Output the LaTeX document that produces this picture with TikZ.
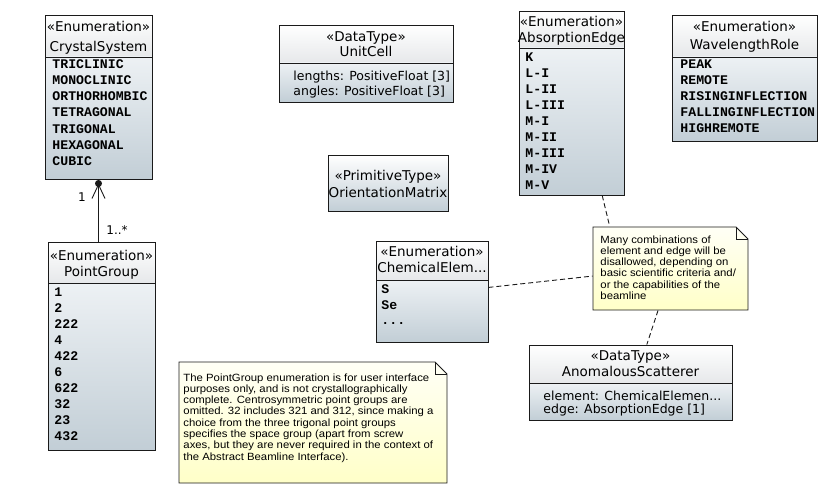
\documentclass[tikz,border=0pt]{standalone}
\usepackage{fontspec}
\usepackage{xcolor}
\newfontfamily\umlsans{DejaVu Sans}
\newfontfamily\umlmono{Liberation Mono}
\newfontfamily\umlnote[FakeStretch=1.08]{Liberation Sans}
\usetikzlibrary{arrows.meta,calc,fit}
\definecolor{headgray}{HTML}{E6E8EA}
\definecolor{bodytop}{HTML}{EDF1F4}
\definecolor{bodybottom}{HTML}{C2CED6}
\definecolor{notetop}{HTML}{FFFFF6}
\definecolor{notebottom}{HTML}{FFFFC8}
\definecolor{umlline}{HTML}{1A1A1A}

% class box: name, left, top, right, separator, bottom
\newcommand{\classbox}[6]{%
  \shade[top color=white, bottom color=headgray] (#2,#3) rectangle (#4,#5);
  \shade[top color=bodytop, bottom color=bodybottom] (#2,#5) rectangle (#4,#6);
  \draw[umlline] (#2,#5) -- (#4,#5);
  \node[classframe, fit={(#2,#3) (#4,#6)}] (#1) {};
}
% note with folded corner: name, left, top, right, bottom
\newcommand{\notebox}[5]{%
  \shade[top color=notetop, bottom color=notebottom]
    (#2,#3) -- ({#4-12},#3) -- (#4,{#3+12}) -- (#4,#5) -- (#2,#5) -- cycle;
  \draw[umlline] (#2,#3) -- ({#4-12},#3) -- (#4,{#3+12}) -- (#4,#5) -- (#2,#5) -- cycle;
  \draw[umlline] ({#4-12},#3) -- ({#4-12},{#3+12}) -- (#4,{#3+12});
  \node[inner sep=0pt, fit={(#2,#3) (#4,#5)}] (#1) {};
}

\begin{document}
\begin{tikzpicture}[
    x=1pt, y=-1pt, line width=0.9pt,
    classframe/.style={draw=umlline, inner sep=0pt},
    stereo/.style={font=\umlsans\fontsize{13.5}{15}\selectfont, inner sep=0pt,
      text height=9.5pt, text depth=2.5pt},
    attr/.style={font=\umlsans\fontsize{12.5}{15}\selectfont, inner sep=0pt,
      anchor=west, text height=9pt, text depth=2.5pt},
    literal/.style={font=\umlmono\bfseries\fontsize{13.2}{15}\selectfont, inner sep=0pt,
      anchor=west, text height=7.5pt, text depth=0pt},
    notetext/.style={font=\umlnote\fontsize{10.5}{11.3}\selectfont, inner sep=0pt,
      anchor=north west, align=left},
    mult/.style={font=\umlsans\fontsize{12}{14}\selectfont, inner sep=0pt},
    noteline/.style={umlline, dash pattern=on 5pt off 3pt}
  ]
  \fill[white] (0,0) rectangle (829,494);
  \useasboundingbox (0,0) rectangle (829,494);

  % CrystalSystem
  \classbox{cs}{45}{15}{152}{57}{179}
  \node[stereo] (cs-stereo) at (98.5,28) {«Enumeration»};
  \node[stereo] (cs-title) at (98.5,48) {CrystalSystem};
  \foreach \lit [count=\i from 0] in {TRICLINIC,MONOCLINIC,ORTHORHOMBIC,TETRAGONAL,TRIGONAL,HEXAGONAL,CUBIC}
    \node[literal] (cs-\i) at (52,{64.5+16.2*\i}) {\lit};

  % PointGroup
  \classbox{pg}{48}{242}{155}{283}{450}
  \node[stereo] (pg-stereo) at (101.5,257) {«Enumeration»};
  \node[stereo] (pg-title) at (101.5,273) {PointGroup};
  \foreach \lit [count=\i from 0] in {1,2,222,4,422,6,622,32,23,432}
    \node[literal] (pg-\i) at (54,{293+16*\i}) {\lit};

  % association CrystalSystem -- PointGroup
  \draw[umlline, {Straight Barb[length=14pt,width=13pt]}-, shorten <=4pt]
    (cs.south) -- (cs.south |- pg.north);
  \fill[umlline] ($(cs.south)+(0,4)$) circle[radius=3.5pt];
  \node[mult] (cs-mult) at (82,197) {1};
  \node[mult] (pg-mult) at (117,230) {1..*};

  % UnitCell
  \classbox{uc}{279}{25}{453}{63}{102}
  \node[stereo] (uc-stereo) at (366,38) {«DataType»};
  \node[stereo] (uc-title) at (366,53) {UnitCell};
  \node[attr] (uc-lengths) at (293,77) {lengths: PositiveFloat [3]};
  \node[attr] (uc-angles) at (293,92) {angles: PositiveFloat [3]};

  % OrientationMatrix
  \shade[top color=white, bottom color=bodybottom] (328,155) rectangle (448,211);
  \node[classframe, fit={(328,155) (448,211)}] (om) {};
  \node[stereo] (om-stereo) at (388,177) {«PrimitiveType»};
  \node[stereo] (om-title) at (388,194) {OrientationMatrix};

  % AbsorptionEdge
  \classbox{ae}{519}{11}{624}{48}{195}
  \node[stereo] (ae-stereo) at (571.5,23) {«Enumeration»};
  \node[stereo] (ae-title) at (571.5,39) {AbsorptionEdge};
  \foreach \lit [count=\i from 0] in {K,L-I,L-II,L-III,M-I,M-II,M-III,M-IV,M-V}
    \node[literal] (ae-\i) at (525,{58+16*\i}) {\lit};

  % WavelengthRole
  \classbox{wr}{672}{15}{817}{57}{141}
  \node[stereo] (wr-stereo) at (744.5,28) {«Enumeration»};
  \node[stereo] (wr-title) at (744.5,46) {WavelengthRole};
  \foreach \lit [count=\i from 0] in {PEAK,REMOTE,RISINGINFLECTION,FALLINGINFLECTION,HIGHREMOTE}
    \node[literal] (wr-\i) at (680,{65+16*\i}) {\lit};

  % ChemicalElement
  \classbox{ce}{376}{241}{488}{280}{342}
  \node[stereo] (ce-stereo) at (432,253) {«Enumeration»};
  \node[stereo] (ce-title) at (432,269) {ChemicalElem...};
  \node[literal] (ce-0) at (381,290) {S};
  \node[literal] (ce-1) at (381,305.5) {Se};
  \node[literal] (ce-2) at (381,321) {...};

  % AnomalousScatterer
  \classbox{as}{529}{345}{732}{383}{420}
  \node[stereo] (as-stereo) at (630.5,357) {«DataType»};
  \node[stereo] (as-title) at (630.5,373) {AnomalousScatterer};
  \node[attr] (as-element) at (543,397) {element: ChemicalElemen...};
  \node[attr] (as-edge) at (543,410) {edge: AbsorptionEdge [1]};

  % notes
  \notebox{nt1}{593}{227}{748}{310}
  \node[notetext] (nt1-text) at (600,235) {Many combinations of\\element and edge will be\\disallowed, depending on\\basic scientific criteria and/\\or the capabilities of the\\beamline};
  \notebox{nt2}{179}{362}{447}{483}
  \node[notetext] (nt2-text) at (183,373) {The PointGroup enumeration is for user interface\\purposes only, and is not crystallographically\\complete. Centrosymmetric point groups are\\omitted. 32 includes 321 and 312, since making a\\choice from the three trigonal point groups\\specifies the space group (apart from screw\\axes, but they are never required in the context of\\the Abstract Beamline Interface).};

  % note anchors
  \draw[noteline] ($(ce.north east)!0.46!(ce.south east)$) -- ($(nt1.north west)!0.59!(nt1.south west)$);
  \draw[noteline] ($(ae.south west)!0.79!(ae.south east)$) -- ($(nt1.north west)!0.11!(nt1.north east)$);
  \draw[noteline] ($(nt1.south west)!0.42!(nt1.south east)$) -- ($(as.north west)!0.58!(as.north east)$);
\end{tikzpicture}
\end{document}
